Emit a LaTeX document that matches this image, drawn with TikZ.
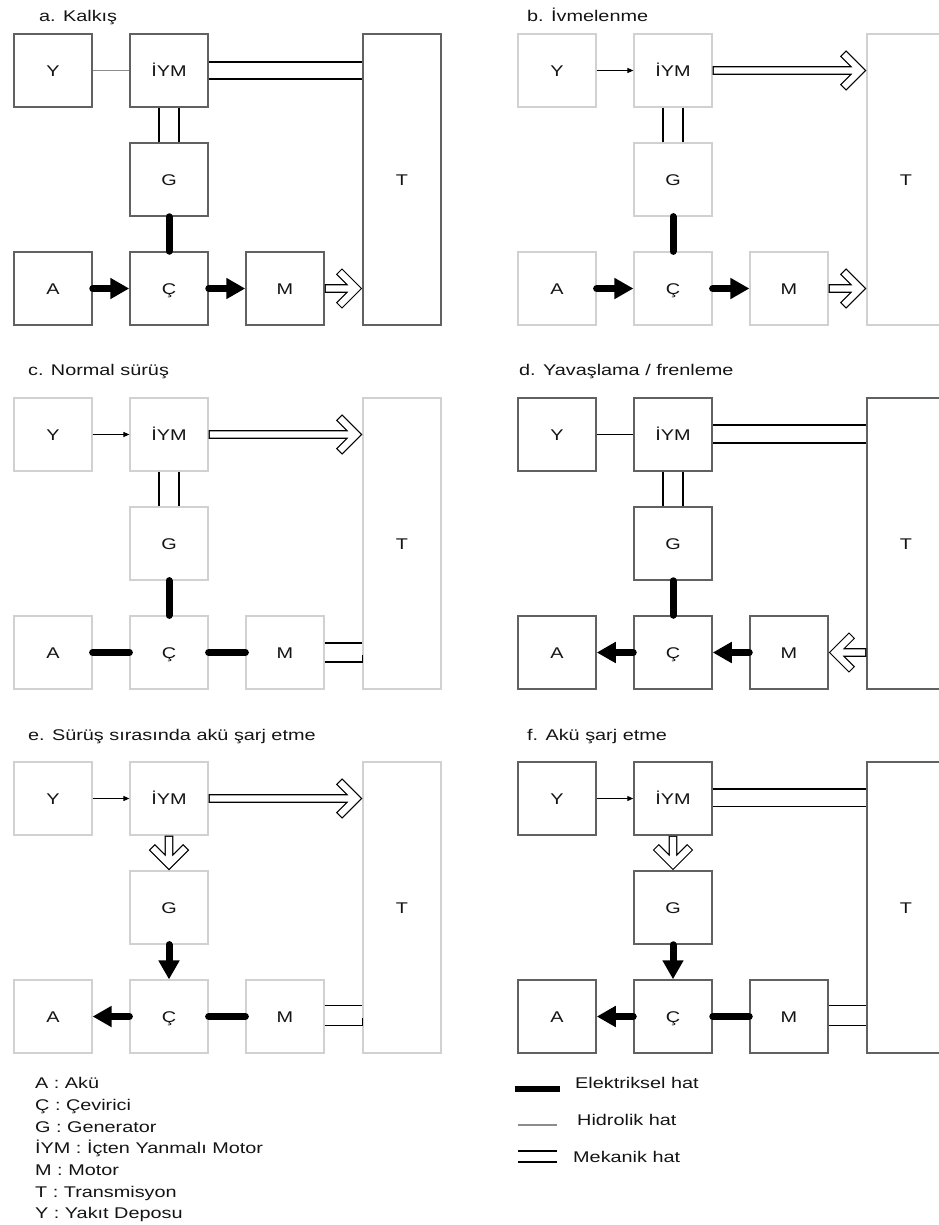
\documentclass[tikz,border=0pt]{standalone}
\usepackage{fontspec}
\setmainfont{Liberation Sans}[FakeStretch=1.28]
\usetikzlibrary{arrows.meta,calc}

% the seven blocks of one operating-mode panel; #1 = name prefix, #2 = box style
\newcommand\panelboxes[2]{%
  \node[#2] (#1Y) at (53,70.5) {Y};
  \node[#2] (#1I) at (169,70.5) {İYM};
  \node[#2] (#1G) at (169,179.5) {G};
  \node[#2] (#1A) at (53,288.5) {A};
  \node[#2] (#1C) at (169,288.5) {Ç};
  \node[#2] (#1M) at (285,288.5) {M};
  \node[#2, minimum height=291bp] (#1T) at (402,179.5) {T};
}

\begin{document}
\begin{tikzpicture}[x=1bp,y=-1bp,
  every node/.style={font=\fontsize{15.5bp}{18bp}\selectfont, text=black!92},
  blockbase/.style={minimum width=78bp, minimum height=73bp, inner sep=0pt,
    text height=11bp, text depth=0bp, fill=white},
  darkbox/.style={blockbase, draw=black!62, line width=1.5bp},
  lightbox/.style={blockbase, draw=black!18, line width=1.2bp},
  title/.style={anchor=base west, inner sep=0pt},
  elec/.style={line width=7bp, line cap=round},
  elecarrow/.style={elec, -{Triangle[length=19bp,width=20bp]}},
  hydro/.style={line width=1.4bp, draw=black!45},
  fuel/.style={line width=1.1bp},
  fuelarrow/.style={fuel, -{Triangle[length=6bp,width=5bp]}},
  mech/.style={line width=1.3bp},
  hollow/.style={double=white, double distance=6.2bp, line width=1.2bp,
    line cap=rect, line join=miter,
    to path={
      ($(\tikztostart)!4.3bp!(\tikztotarget)$) -- ($(\tikztotarget)!10.5bp!(\tikztostart)$)
      ($(\tikztotarget)!6.1bp!(\tikztostart)$) coordinate (hollowtip)
      ($(hollowtip)!20bp!45:(\tikztostart)$) -- (hollowtip)
      -- ($(hollowtip)!20bp!-45:(\tikztostart)$)
    }},
]
\useasboundingbox (0,0) rectangle (939,1225);
\clip (0,0) rectangle (939,1225);

% ---------------- a. Kalkış ----------------
\node[title] (ta) at (39,21.5) {a. Kalkış};
\panelboxes{a}{darkbox}
\draw[hydro] (aY) -- (aI);
\draw[mech] ([yshift=8.5bp]aI.east) -- ([yshift=8.5bp]aI.east -| aT.west);
\draw[mech] ([yshift=-8.5bp]aI.east) -- ([yshift=-8.5bp]aI.east -| aT.west);
\draw[mech] ([xshift=-10bp]aI.south) -- ([xshift=-10bp]aG.north);
\draw[mech] ([xshift=10bp]aI.south) -- ([xshift=10bp]aG.north);
\draw[elec] (aG) -- (aC);
\draw[elecarrow] (aA) -- (aC);
\draw[elecarrow] (aC) -- (aM);
\draw[hollow] (aM.east) to (aM.east -| aT.west);

% ---------------- b. İvmelenme ----------------
\node[title] (tb) at (527,21.5) {b. İvmelenme};
\begin{scope}[shift={(504,0)}]
\panelboxes{b}{lightbox}
\draw[fuelarrow] (bY) -- (bI);
\draw[hollow] (bI.east) to (bI.east -| bT.west);
\draw[mech] ([xshift=-10bp]bI.south) -- ([xshift=-10bp]bG.north);
\draw[mech] ([xshift=10bp]bI.south) -- ([xshift=10bp]bG.north);
\draw[elec] (bG) -- (bC);
\draw[elecarrow] (bA) -- (bC);
\draw[elecarrow] (bC) -- (bM);
\draw[hollow] (bM.east) to (bM.east -| bT.west);
\end{scope}

% ---------------- c. Normal sürüş ----------------
\node[title] (tc) at (28,375.5) {c. Normal sürüş};
\begin{scope}[shift={(0,364)}]
\panelboxes{c}{lightbox}
\draw[fuelarrow] (cY) -- (cI);
\draw[hollow] (cI.east) to (cI.east -| cT.west);
\draw[mech] ([xshift=-10bp]cI.south) -- ([xshift=-10bp]cG.north);
\draw[mech] ([xshift=10bp]cI.south) -- ([xshift=10bp]cG.north);
\draw[elec] (cG) -- (cC);
\draw[elec] (cA) -- (cC);
\draw[elec] (cC) -- (cM);
\draw[mech] ([yshift=9.5bp]cM.east) -- ([yshift=9.5bp]cM.east -| cT.west);
\draw[mech] ([yshift=-9.5bp]cM.east) -- ([yshift=-9.5bp]cM.east -| cT.west) -- ++(0,-7);
\end{scope}

% ---------------- d. Yavaşlama / frenleme ----------------
\node[title] (td) at (519,375.5) {d. Yavaşlama / frenleme};
\begin{scope}[shift={(504,364)}]
\panelboxes{d}{darkbox}
\draw[fuel] (dY) -- (dI);
\draw[mech] ([yshift=9.5bp]dI.east) -- ([yshift=9.5bp]dI.east -| dT.west);
\draw[mech] ([yshift=-8.5bp]dI.east) -- ([yshift=-8.5bp]dI.east -| dT.west);
\draw[mech] ([xshift=-10bp]dI.south) -- ([xshift=-10bp]dG.north);
\draw[mech] ([xshift=10bp]dI.south) -- ([xshift=10bp]dG.north);
\draw[elec] (dG) -- (dC);
\draw[elecarrow] (dC) -- (dA);
\draw[elecarrow] (dM) -- (dC);
\draw[hollow] (dM.east -| dT.west) to (dM.east);
\end{scope}

% ---------------- e. Sürüş sırasında akü şarj etme ----------------
\node[title] (te) at (28,740.5) {e. Sürüş sırasında akü şarj etme};
\begin{scope}[shift={(0,728)}]
\panelboxes{e}{lightbox}
\draw[fuelarrow] (eY) -- (eI);
\draw[hollow] (eI.east) to (eI.east -| eT.west);
\draw[hollow] (eI.south) to (eG.north);
\draw[elecarrow] (eG) -- (eC);
\draw[elecarrow] (eC) -- (eA);
\draw[elec] (eC) -- (eM);
\draw[mech] ([yshift=11bp]eM.east) -- ([yshift=11bp]eM.east -| eT.west);
\draw[mech] ([yshift=-9bp]eM.east) -- ([yshift=-9bp]eM.east -| eT.west) -- ++(0,-8);
\end{scope}

% ---------------- f. Akü şarj etme ----------------
\node[title] (tf) at (527,740.5) {f. Akü şarj etme};
\begin{scope}[shift={(504,728)}]
\panelboxes{f}{darkbox}
\draw[fuelarrow] (fY) -- (fI);
\draw[mech] ([yshift=9.5bp]fI.east) -- ([yshift=9.5bp]fI.east -| fT.west);
\draw[mech] ([yshift=-8bp]fI.east) -- ([yshift=-8bp]fI.east -| fT.west);
\draw[hollow] (fI.south) to (fG.north);
\draw[elecarrow] (fG) -- (fC);
\draw[elecarrow] (fC) -- (fA);
\draw[elec] (fC) -- (fM);
\draw[mech] ([yshift=11bp]fM.east) -- ([yshift=11bp]fM.east -| fT.west);
\draw[mech] ([yshift=-9bp]fM.east) -- ([yshift=-9bp]fM.east -| fT.west);
\end{scope}

% ---------------- abbreviations ----------------
\node[title] (k1) at (35,1088.5) {A : Akü};
\node[title] (k2) at (35,1110.5) {Ç : Çevirici};
\node[title] (k3) at (35,1132.5) {G : Generator};
\node[title] (k4) at (35,1153.5) {İYM : İçten Yanmalı Motor};
\node[title] (k5) at (35,1175.5) {M : Motor};
\node[title] (k6) at (35,1197) {T : Transmisyon};
\node[title] (k7) at (35,1218.5) {Y : Yakıt Deposu};

% ---------------- line types ----------------
\coordinate (e1) at (515,1089); \coordinate (e2) at (560,1089);
\draw[line width=6bp] (e1) -- (e2);
\node[title] (l1) at (575,1088.5) {Elektriksel hat};
\coordinate (h1) at (518,1125); \coordinate (h2) at (557,1125);
\draw[hydro, line width=2bp] (h1) -- (h2);
\node[title] (l2) at (577,1125.5) {Hidrolik hat};
\coordinate (m1) at (518,1151); \coordinate (m2) at (557,1151);
\coordinate (m3) at (518,1162); \coordinate (m4) at (557,1162);
\draw[mech] (m1) -- (m2);
\draw[mech] (m3) -- (m4);
\node[title] (l3) at (573,1162.5) {Mekanik hat};
\end{tikzpicture}
\end{document}
